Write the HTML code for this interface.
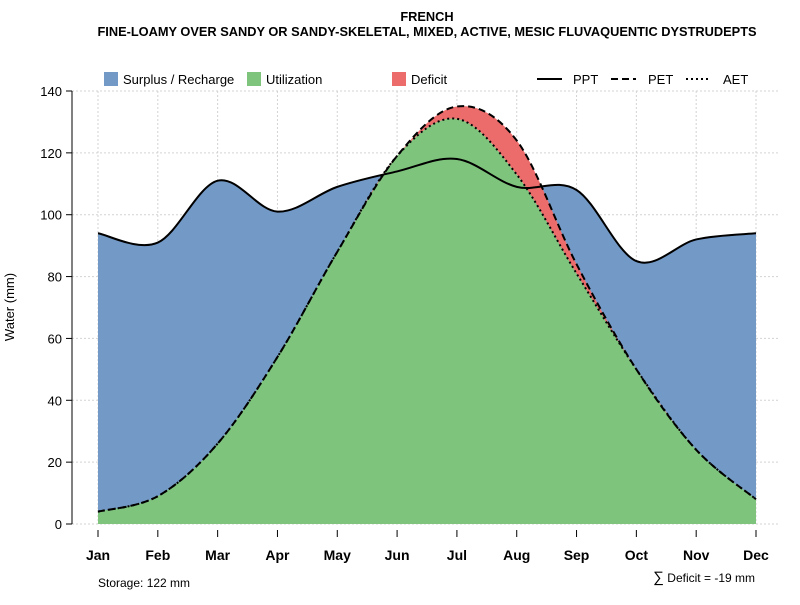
<!DOCTYPE html>
<html><head><meta charset="utf-8"><style>
body{margin:0;background:#fff;font-family:"Liberation Sans",sans-serif}
svg text{font-family:"Liberation Sans",sans-serif}
</style></head><body>
<svg id="c" width="800" height="600">
<text x="427" y="21" text-anchor="middle" font-size="12.8" font-weight="bold">FRENCH</text>
<text x="427" y="36" text-anchor="middle" font-size="12.8" font-weight="bold">FINE-LOAMY OVER SANDY OR SANDY-SKELETAL, MIXED, ACTIVE, MESIC FLUVAQUENTIC DYSTRUDEPTS</text>
<g id="grid"></g><g id="areas"></g><g id="lines"></g><g id="axes"></g>
<g>
<rect x="104" y="72" width="14" height="14" fill="#7399c6"/>
<text x="123" y="84" font-size="13">Surplus / Recharge</text>
<rect x="247" y="72" width="14" height="14" fill="#7fc47d"/>
<text x="266" y="84" font-size="13">Utilization</text>
<rect x="392" y="72" width="14" height="14" fill="#ec6b6b"/>
<text x="411" y="84" font-size="13">Deficit</text>
<line x1="537" y1="79" x2="562" y2="79" stroke="#000" stroke-width="2"/>
<text x="573" y="84" font-size="13">PPT</text>
<line x1="611" y1="79" x2="636" y2="79" stroke="#000" stroke-width="2" stroke-dasharray="7,4"/>
<text x="648" y="84" font-size="13">PET</text>
<line x1="686" y1="79" x2="711" y2="79" stroke="#000" stroke-width="2" stroke-dasharray="2,3"/>
<text x="723" y="84" font-size="13">AET</text>
</g>
<text x="14" y="307" font-size="13" text-anchor="middle" transform="rotate(-90 14 307)">Water (mm)</text>
<text x="98" y="587" font-size="12">Storage: 122 mm</text>
<text x="755" y="582" font-size="12" text-anchor="end"><tspan font-size="15">∑</tspan> Deficit = -19 mm</text>
</svg>
<script>
const months=["Jan","Feb","Mar","Apr","May","Jun","Jul","Aug","Sep","Oct","Nov","Dec"];
const ppt=[94,91,111,101,109,114,118,109,108,85,92,94];
const pet=[4,9,26,54,88,119,135,124,84,50,24,8];
const aet=[4,9,26,54,88,119,131,113,81,50,24,8];
const yTicks=[0,20,40,60,80,100,120,140];
const NS="http://www.w3.org/2000/svg";
const x=i=>98+i*(756-98)/11, y=v=>524-v*(433/140);
function mk(t,a,p){const e=document.createElementNS(NS,t);for(const k in a)e.setAttribute(k,a[k]);document.getElementById(p).appendChild(e);return e;}
function pts(arr){return arr.map((v,i)=>[x(i),y(v)]);}
function curve(p){let d="";for(let i=0;i<p.length-1;i++){const p0=p[Math.max(i-1,0)],p1=p[i],p2=p[i+1],p3=p[Math.min(i+2,p.length-1)];
const c1=[p1[0]+(p2[0]-p0[0])/6,p1[1]+(p2[1]-p0[1])/6],c2=[p2[0]-(p3[0]-p1[0])/6,p2[1]-(p3[1]-p1[1])/6];
d+=` C${c1[0]},${c1[1]} ${c2[0]},${c2[1]} ${p2[0]},${p2[1]}`;}return d;}
function path(arr){const p=pts(arr);return `M${p[0][0]},${p[0][1]}`+curve(p);}
function rpath(arr){const p=pts(arr).reverse();return `L${p[0][0]},${p[0][1]}`+curve(p);}
yTicks.forEach(v=>{const g=mk("line",{x1:72,x2:780,y1:y(v),y2:y(v),stroke:"#d3d3d3","stroke-dasharray":"2,2"},"grid");

const t=mk("line",{x1:66,x2:72,y1:y(v),y2:y(v),stroke:"#000"},"axes");

const l=mk("text",{x:62,y:y(v)+5,"text-anchor":"end","font-size":13},"axes");l.textContent=v;
});
months.forEach((m,i)=>{const g=mk("line",{x1:x(i),x2:x(i),y1:91,y2:524,stroke:"#d3d3d3","stroke-dasharray":"2,2"},"grid");

const t=mk("line",{x1:x(i),x2:x(i),y1:530,y2:537,stroke:"#000"},"axes");

const l=mk("text",{x:x(i),y:560,"text-anchor":"middle","font-size":14,"font-weight":"bold"},"axes");l.textContent=m;
});
const ax=mk("line",{x1:72,x2:72,y1:91,y2:524,stroke:"#000"},"axes");

const base=`L${x(11)},${y(0)} L${x(0)},${y(0)} Z`;
const a1=mk("path",{d:path(ppt)+base,fill:"#7399c6"},"areas");

const a2=mk("path",{d:path(aet)+base,fill:"#7fc47d"},"areas");

const a3=mk("path",{d:path(pet)+rpath(aet)+"Z",fill:"#ec6b6b"},"areas");

const l1=mk("path",{d:path(ppt),fill:"none",stroke:"#000","stroke-width":2},"lines");

const l2=mk("path",{d:path(pet),fill:"none",stroke:"#000","stroke-width":2,"stroke-dasharray":"7,4"},"lines");

const l3=mk("path",{d:path(aet),fill:"none",stroke:"#000","stroke-width":2,"stroke-dasharray":"2,3"},"lines");

</script>
</body></html>
